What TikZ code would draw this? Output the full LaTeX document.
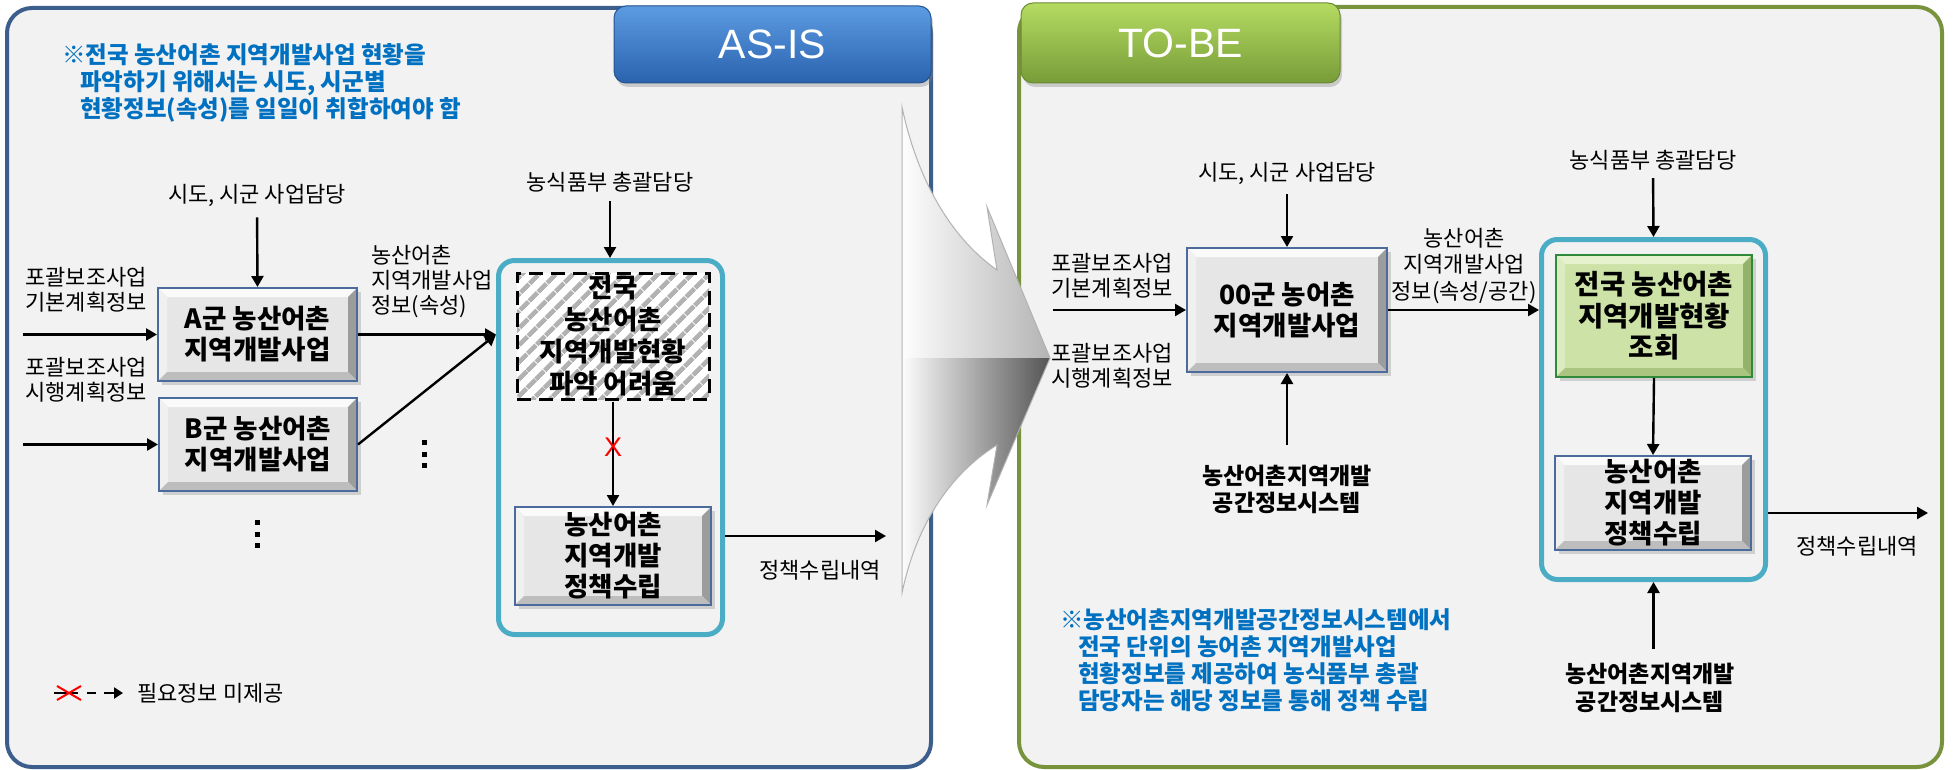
\documentclass[tikz,border=0pt]{standalone}
\usepackage{fontspec}
\setmainfont{Noto Sans CJK KR}
\newfontfamily\latinfont{Liberation Sans}
\usetikzlibrary{arrows.meta,shadows,patterns.meta,calc}

\definecolor{panelbg}{HTML}{F2F2F2}
\definecolor{asisborder}{HTML}{3B5E8C}
\definecolor{tobeborder}{HTML}{77933C}
\definecolor{tealc}{HTML}{4BACC6}
\definecolor{notec}{HTML}{0070C0}
\definecolor{boxedge}{HTML}{4A6B9C}
\definecolor{bvtop}{HTML}{FAFAFA}
\definecolor{bvleft}{HTML}{F0F0F0}
\definecolor{bvright}{HTML}{9C9C9C}
\definecolor{bvbot}{HTML}{BDBDBD}
\definecolor{bvmid}{HTML}{E6E6E6}
\definecolor{gnedge}{HTML}{2F8A3A}
\definecolor{gntop}{HTML}{E6F1CE}
\definecolor{gnleft}{HTML}{DDEBC0}
\definecolor{gnright}{HTML}{94B36A}
\definecolor{gnbot}{HTML}{A9C580}
\definecolor{gnmid}{HTML}{CDE2A6}
\definecolor{tabtopA}{HTML}{5C9BE2}
\definecolor{tabbotA}{HTML}{2A62AE}
\definecolor{tabedgeA}{HTML}{25558F}
\definecolor{tabtopB}{HTML}{B5DB62}
\definecolor{tabbotB}{HTML}{779C38}
\definecolor{tabedgeB}{HTML}{6A8A33}

\newcommand\bevelpic[5]{%
  \coordinate (bvNW) at (path picture bounding box.north west);
  \coordinate (bvNE) at (path picture bounding box.north east);
  \coordinate (bvSW) at (path picture bounding box.south west);
  \coordinate (bvSE) at (path picture bounding box.south east);
  \fill[#1] (bvNW) -- (bvNE) -- ([shift={(-#5,-#5)}]bvNE) -- ([shift={(#5,-#5)}]bvNW) -- cycle;
  \fill[#2] (bvNW) -- ([shift={(#5,-#5)}]bvNW) -- ([shift={(#5,#5)}]bvSW) -- (bvSW) -- cycle;
  \fill[#3] (bvNE) -- (bvSE) -- ([shift={(-#5,#5)}]bvSE) -- ([shift={(-#5,-#5)}]bvNE) -- cycle;
  \fill[#4] (bvSW) -- (bvSE) -- ([shift={(-#5,#5)}]bvSE) -- ([shift={(#5,#5)}]bvSW) -- cycle;
}

\begin{document}
\begin{tikzpicture}[x=1pt,y=-1pt,
  lab/.style={font=\fontsize{22}{25}\selectfont, align=center, inner sep=0pt},
  blab/.style={font=\bfseries\fontsize{23}{27.5}\selectfont, align=center, inner sep=0pt},
  note/.style={font=\bfseries\fontsize{23.5}{27}\selectfont, text=notec, align=left, inner sep=0pt, anchor=west},
  conn/.style={line width=2.4pt, -{Triangle[length=11pt,width=12pt]}},
  boxbase/.style={line width=2pt, inner sep=0pt, align=center,
     drop shadow={shadow xshift=4pt,shadow yshift=-4pt,opacity=0.3}},
  bevelbox/.style={boxbase, draw=boxedge, fill=bvmid, font=\bfseries\fontsize{26.5}{31}\selectfont,
     path picture={\bevelpic{bvtop}{bvleft}{bvright}{bvbot}{9pt}}},
  greenbox/.style={boxbase, draw=gnedge, fill=gnmid, font=\bfseries\fontsize{27.5}{31.5}\selectfont,
     path picture={\bevelpic{gntop}{gnleft}{gnright}{gnbot}{9pt}}},
  tealbox/.style={draw=tealc, line width=5pt, rounded corners=16pt, inner sep=0pt},
  hatchbox/.style={draw=black, line width=3pt, dash pattern=on 14pt off 8pt, inner sep=0pt,
     preaction={fill=white}, pattern={Lines[angle=45,distance=13pt,line width=5pt]}, pattern color=black!30,
     align=center, font=\bfseries\fontsize{26.5}{32}\selectfont},
  panel/.style={line width=4pt, fill=panelbg, rounded corners=25pt, inner sep=0pt},
  tab/.style={rounded corners=12pt, line width=1pt, text=white, inner sep=0pt,
     font=\latinfont\fontsize{41}{41}\selectfont,
     drop shadow={shadow xshift=2pt,shadow yshift=-4pt,opacity=0.35}},
]
\useasboundingbox (0,0) rectangle (1953,770);

% panels
\node[panel, draw=asisborder, minimum width=924pt, minimum height=759pt] (asis) at (469,387.5) {};
\node[panel, draw=tobeborder, minimum width=923pt, minimum height=760pt] (tobe) at (1480.5,387) {};
\node[tab, top color=tabtopA, bottom color=tabbotA, draw=tabedgeA, minimum width=317pt, minimum height=77pt] (asistab) at (772.5,44.5) {AS-IS};
\node[tab, top color=tabtopB, bottom color=tabbotB, draw=tabedgeB, minimum width=319pt, minimum height=80pt] (tobetab) at (1180.5,43) {TO-BE};

% big transition arrow
\begin{scope}
\clip (902,107) .. controls (913,160) and (940,230) .. (997,270) -- (987,207) -- (1050,358) -- (987,505) -- (997,445) .. controls (940,480) and (913,540) .. (902,593) -- cycle;
\shade[left color=white, right color=black!30] (900,100) rectangle (1052,358);
\shade[left color=white, right color=black!68] (900,358) rectangle (1052,600);
\end{scope}
\draw[black!30, line width=1pt] (902,107) .. controls (913,160) and (940,230) .. (997,270) -- (987,207) -- (1050,358) -- (987,505) -- (997,445) .. controls (940,480) and (913,540) .. (902,593) -- cycle;

% notes
\node[note] (noteL) at (62,83) {※전국 농산어촌 지역개발사업 현황을\\\hspace*{18pt}파악하기 위해서는 시도, 시군별\\\hspace*{18pt}현황정보(속성)를 일일이 취합하여야 함};
\node[note] (noteR) at (1060,660) {※농산어촌지역개발공간정보시스템에서\\\hspace*{18pt}전국 단위의 농어촌 지역개발사업\\\hspace*{18pt}현황정보를 제공하여 농식품부 총괄\\\hspace*{18pt}담당자는 해당 정보를 통해 정책 수립};

% ---------- AS-IS ----------
\node[lab] (sidoL) at (257,195) {시도, 시군 사업담당};
\node[bevelbox, minimum width=199pt, minimum height=93pt] (boxA) at (257.5,334.5) {A군 농산어촌\\지역개발사업};
\node[bevelbox, minimum width=198pt, minimum height=93pt] (boxB) at (258,444.5) {B군 농산어촌\\지역개발사업};
\node[lab] (inA) at (86,289.5) {포괄보조사업\\기본계획정보};
\node[lab] (inB) at (86,379.5) {포괄보조사업\\시행계획정보};
\coordinate (srcA) at (23,334.5);
\coordinate (srcB) at (23,444.5);
\node[lab, align=left, anchor=west] (infoL) at (371,282) {농산어촌\\지역개발사업\\정보(속성)};
\node[tealbox, minimum width=224pt, minimum height=374pt] (tealL) at (610.5,447.5) {};
\node[hatchbox, minimum width=192pt, minimum height=126pt] (hatch) at (613,336) {전국\\농산어촌\\지역개발현황\\파악 어려움};
\node[bevelbox, minimum width=196pt, minimum height=98pt] (polL) at (613,556) {농산어촌\\지역개발\\정책수립};
\node[lab] (nongL) at (610,182) {농식품부 총괄담당};
\node[lab] (resL) at (820,570) {정책수립내역};
\coordinate (outL) at (886,536);

\draw[conn, shorten <=11pt] (sidoL.south) -- (boxA.north);
\draw[conn] (srcA) -- (boxA.west);
\draw[conn] (srcB) -- (boxB.west);
\draw[conn] (boxA.east) -- (boxA.east -| tealL.west);
\draw[conn] (boxB.east) -- (boxA.east -| tealL.west);
\draw[conn, shorten <=9pt] (nongL.south) -- (nongL.south |- tealL.north);
\draw[conn] (hatch.south) -- node[pos=0.44, text=red, inner sep=0pt, font=\latinfont\fontsize{27}{27}\selectfont] (xmark) {X} (polL.north);
\draw[conn] (tealL.east |- outL) -- (outL);

\foreach \yy in {440,452,463} \fill (422,\yy) rectangle (426.5,\yy+4.5);
\foreach \yy in {520,532,543} \fill (255,\yy) rectangle (259.5,\yy+4.5);

% legend
\coordinate (legS) at (54,693);
\coordinate (legE) at (123,693);
\draw[line width=2.4pt, dash pattern=on 24pt off 9pt on 9pt off 8pt, -{Triangle[length=9pt,width=11pt]}] (legS) -- (legE);
\draw[red, line width=2pt] (57,686) -- (81,700) (57,700) -- (81,686);
\node[lab, anchor=west] (legT) at (137,693) {필요정보 미제공};

% ---------- TO-BE ----------
\node[lab] (sidoR) at (1287,173) {시도, 시군 사업담당};
\node[bevelbox, minimum width=200pt, minimum height=124pt] (box00) at (1287,310) {00군 농어촌\\지역개발사업};
\node[lab] (inC) at (1112,275.5) {포괄보조사업\\기본계획정보};
\node[lab] (inD) at (1112,365.5) {포괄보조사업\\시행계획정보};
\coordinate (srcC) at (1053,310);
\node[lab, font=\fontsize{22}{26.5}\selectfont] (infoR) at (1464,266) {농산어촌\\지역개발사업\\정보(속성/공간)};
\node[blab] (sysR1) at (1287,489.5) {농산어촌지역개발\\공간정보시스템};
\node[tealbox, minimum width=224pt, minimum height=340pt] (tealR) at (1653.5,409.5) {};
\node[greenbox, minimum width=196pt, minimum height=122pt] (green) at (1654,316) {전국 농산어촌\\지역개발현황\\조회};
\node[bevelbox, minimum width=196pt, minimum height=94pt] (polR) at (1653,503) {농산어촌\\지역개발\\정책수립};
\node[lab] (nongR) at (1653,160) {농식품부 총괄담당};
\node[lab] (resR) at (1857,546) {정책수립내역};
\coordinate (outR) at (1928,513);
\node[blab] (sysR2) at (1650,688) {농산어촌지역개발\\공간정보시스템};

\draw[conn, shorten <=10pt] (sidoR.south) -- (box00.north);
\draw[conn] (srcC) -- (box00.west);
\draw[conn] (box00.east) -- (box00.east -| tealR.west);
\draw[conn, shorten <=20pt] (sysR1.north) -- (box00.south);
\draw[conn, shorten <=8pt] (nongR.south) -- (tealR.north);
\draw[conn] (green.south) -- (polR.north);
\draw[conn] (tealR.east |- outR) -- (outR);
\draw[conn, shorten <=14pt] (tealR.south |- sysR2.north) -- (tealR.south);
\end{tikzpicture}
\end{document}
